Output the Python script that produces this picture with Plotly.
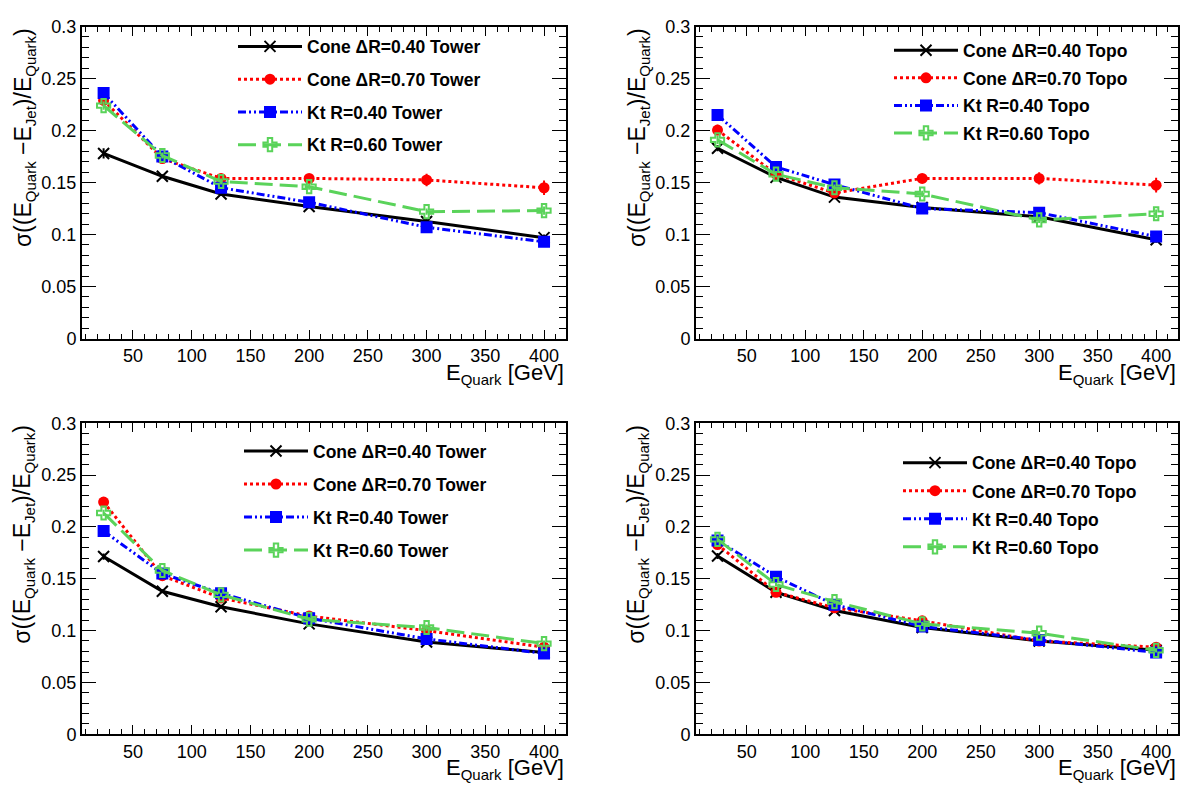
import plotly.graph_objects as go
from plotly.subplots import make_subplots

energy = [25, 75, 125, 200, 300, 400]

# upper row, Tower jets
up_tower_cone04 = [0.178, 0.156, 0.139, 0.127, 0.1125, 0.097]
up_tower_cone07 = [0.229, 0.173, 0.154, 0.154, 0.1525, 0.145]
up_tower_kt04 = [0.236, 0.175, 0.145, 0.131, 0.107, 0.093]
up_tower_kt06 = [0.224, 0.176, 0.151, 0.146, 0.122, 0.123]
up_tower_cone04_err = [0.005, 0.002, 0.002, 0.002, 0.003, 0.003]
up_tower_cone07_err = [0.005, 0.003, 0.003, 0.003, 0.006, 0.007]
up_tower_kt04_err = [0.006, 0.003, 0.003, 0.003, 0.003, 0.003]
up_tower_kt06_err = [0.004, 0.003, 0.003, 0.003, 0.003, 0.004]

# upper row, Topo jets
up_topo_cone04 = [0.183, 0.155, 0.136, 0.126, 0.117, 0.095]
up_topo_cone07 = [0.2005, 0.158, 0.140, 0.154, 0.154, 0.1475]
up_topo_kt04 = [0.215, 0.165, 0.148, 0.125, 0.121, 0.098]
up_topo_kt06 = [0.191, 0.158, 0.145, 0.139, 0.114, 0.120]
up_topo_cone04_err = [0.003, 0.002, 0.002, 0.002, 0.003, 0.003]
up_topo_cone07_err = [0.005, 0.003, 0.003, 0.003, 0.006, 0.007]
up_topo_kt04_err = [0.005, 0.003, 0.003, 0.003, 0.003, 0.003]
up_topo_kt06_err = [0.004, 0.003, 0.003, 0.003, 0.003, 0.004]

# lower row, Tower jets
low_tower_cone04 = [0.1715, 0.138, 0.123, 0.1065, 0.089, 0.079]
low_tower_cone07 = [0.224, 0.153, 0.1315, 0.114, 0.100, 0.084]
low_tower_kt04 = [0.196, 0.155, 0.136, 0.112, 0.092, 0.078]
low_tower_kt06 = [0.2135, 0.158, 0.1345, 0.111, 0.103, 0.0875]
low_tower_cone04_err = [0.003, 0.002, 0.002, 0.002, 0.002, 0.002]
low_tower_cone07_err = [0.003, 0.002, 0.002, 0.002, 0.003, 0.003]
low_tower_kt04_err = [0.003, 0.002, 0.002, 0.002, 0.002, 0.002]
low_tower_kt06_err = [0.003, 0.002, 0.002, 0.002, 0.003, 0.003]

# lower row, Topo jets
low_topo_cone04 = [0.172, 0.137, 0.1195, 0.103, 0.090, 0.081]
low_topo_cone07 = [0.183, 0.137, 0.122, 0.1095, 0.090, 0.084]
low_topo_kt04 = [0.187, 0.152, 0.125, 0.104, 0.091, 0.079]
low_topo_kt06 = [0.188, 0.1445, 0.128, 0.1065, 0.0975, 0.081]
low_topo_cone04_err = [0.003, 0.002, 0.002, 0.002, 0.002, 0.002]
low_topo_cone07_err = [0.003, 0.002, 0.002, 0.002, 0.002, 0.002]
low_topo_kt04_err = [0.003, 0.002, 0.002, 0.002, 0.002, 0.002]
low_topo_kt06_err = [0.003, 0.002, 0.002, 0.002, 0.002, 0.002]

algos = ["Cone \u0394R=0.40", "Cone \u0394R=0.70", "Kt R=0.40", "Kt R=0.60"]

GREEN = "#5ad35a"
styles = [
    dict(color="black", dash="solid", symbol="x-thin-open", size=11),
    dict(color="red", dash="3px,3px", symbol="circle", size=11),
    dict(color="blue", dash="8px,3px,2px,3px,2px,3px", symbol="square", size=10),
    dict(color=GREEN, dash="18px,7px", symbol="cross-open", size=11),
]

panels = [
    (1, 1, "Tower", [up_tower_cone04, up_tower_cone07, up_tower_kt04, up_tower_kt06],
     [up_tower_cone04_err, up_tower_cone07_err, up_tower_kt04_err, up_tower_kt06_err], "legend"),
    (1, 2, "Topo", [up_topo_cone04, up_topo_cone07, up_topo_kt04, up_topo_kt06],
     [up_topo_cone04_err, up_topo_cone07_err, up_topo_kt04_err, up_topo_kt06_err], "legend2"),
    (2, 1, "Tower", [low_tower_cone04, low_tower_cone07, low_tower_kt04, low_tower_kt06],
     [low_tower_cone04_err, low_tower_cone07_err, low_tower_kt04_err, low_tower_kt06_err], "legend3"),
    (2, 2, "Topo", [low_topo_cone04, low_topo_cone07, low_topo_kt04, low_topo_kt06],
     [low_topo_cone04_err, low_topo_cone07_err, low_topo_kt04_err, low_topo_kt06_err], "legend4"),
]

W, H = 1182, 794
FONT = "Liberation Sans, Arial, Helvetica, sans-serif"

fig = make_subplots(rows=2, cols=2)

for row, col, calo, vals, errs, leg in panels:
    for k in range(4):
        st = styles[k]
        fig.add_trace(go.Scatter(
            x=energy, y=vals[k],
            error_y=dict(type="data", array=errs[k], thickness=2, width=0, color=st["color"]),
            mode="lines+markers",
            name=algos[k] + " " + calo,
            legend=leg,
            legendgroup=leg + str(k),
            line=dict(color=st["color"], width=3, dash=st["dash"]),
            marker=dict(symbol=st["symbol"], size=st["size"], color=st["color"],
                        line=dict(color=st["color"], width=2 if k != 1 else 0)),
        ), row=row, col=col)

# frame positions in px
xdom = [(82, 566), (696, 1178)]
ydom = [(17, 337), (424, 743)]

sub = "<sub><span style='font-size:15px'>%s</span></sub>"
ytitle = "\u03c3((E" + sub % "Quark" + " \u2212E" + sub % "Jet" + ")/E" + sub % "Quark" + ")"
xtitle = "E" + sub % "Quark" + " [GeV]"

for row in (1, 2):
    for col in (1, 2):
        x0, x1 = xdom[col - 1]
        y0, y1 = ydom[row - 1]
        fig.update_xaxes(
            domain=[x0 / W, x1 / W], range=[6.6, 418.7],
            tick0=0, dtick=50, ticks="inside", ticklen=9, tickwidth=1, tickcolor="black",
            minor=dict(ticks="inside", dtick=10, ticklen=5, tickcolor="black"),
            showline=True, linecolor="black", linewidth=2, mirror="ticks",
            showgrid=False, zeroline=False,
            tickfont=dict(family=FONT, size=18, color="black"),
            row=row, col=col)
        fig.update_yaxes(
            domain=[1 - y1 / H, 1 - y0 / H], range=[0, 0.3],
            tick0=0, dtick=0.05, ticks="inside", ticklen=14, tickwidth=1, tickcolor="black",
            minor=dict(ticks="inside", dtick=0.01, ticklen=7, tickcolor="black"),
            showline=True, linecolor="black", linewidth=2, mirror="ticks",
            showgrid=False, zeroline=False,
            tickfont=dict(family=FONT, size=18, color="black"),
            row=row, col=col)
        # axis titles
        fig.add_annotation(
            text=ytitle,
            xref="paper", yref="paper", x=(24 + 614 * (col - 1)) / W, y=1 - y0 / H,
            xanchor="center", yanchor="top", textangle=-90, showarrow=False,
            font=dict(family=FONT, size=23, color="black"))
        fig.add_annotation(
            text=xtitle,
            xref="paper", yref="paper", x=x1 / W, y=1 - (y1 + 36) / H,
            xanchor="right", yanchor="middle", showarrow=False,
            font=dict(family=FONT, size=22, color="black"))

leg_common = dict(
    bgcolor="rgba(0,0,0,0)", borderwidth=0,
    font=dict(family=FONT, size=17.5, color="black", weight="bold"),
    itemwidth=64, traceorder="grouped",
    xanchor="left", yanchor="top",
)
fig.update_layout(
    legend=dict(x=233 / W, y=1 - 19 / H, tracegroupgap=7, **leg_common),
    legend2=dict(x=889 / W, y=1 - 23 / H, tracegroupgap=1.8, **leg_common),
    legend3=dict(x=239 / W, y=1 - 434 / H, tracegroupgap=7.3, **leg_common),
    legend4=dict(x=898 / W, y=1 - 446 / H, tracegroupgap=2.3, **leg_common),
    width=W, height=H,
    margin=dict(l=0, r=0, t=0, b=0),
    paper_bgcolor="white", plot_bgcolor="white",
    showlegend=True,
)

fig.write_html("out.html", config={"displayModeBar": False},
               post_script="document.body.style.margin='0';")
